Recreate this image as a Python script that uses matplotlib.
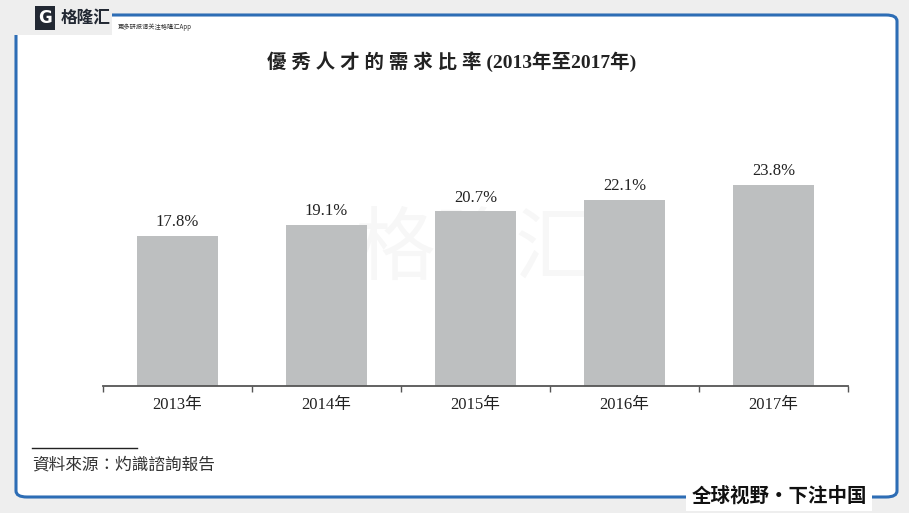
import matplotlib.pyplot as plt
from matplotlib.patches import FancyBboxPatch, Rectangle

years = ['2013年', '2014年', '2015年', '2016年', '2017年']
rates = [17.8, 19.1, 20.7, 22.1, 23.8]
labels = ['17.8%', '19.1%', '20.7%', '22.1%', '23.8%']

serif = ['Liberation Serif', 'Noto Sans CJK TC']
cjk = ['Noto Sans CJK SC', 'DejaVu Sans']

W, H = 909, 513
fig = plt.figure(figsize=(W / 100, H / 100), dpi=100)
fig.patch.set_facecolor('#eeeeee')

# frame
frame = FancyBboxPatch((16 / W, 16 / H), 881 / W, 482 / H,
                       boxstyle='round,pad=0,rounding_size=0.012',
                       transform=fig.transFigure, facecolor='white',
                       edgecolor='#2d6db5', linewidth=2.2, zorder=-10)
fig.add_artist(frame)
# gaps in the frame for logo and slogan
fig.add_artist(Rectangle((0, 478 / H), 112 / W, 35 / H, transform=fig.transFigure,
                         facecolor='#eeeeee', edgecolor='none', zorder=-9))
fig.add_artist(Rectangle((686 / W, 2 / H), 186 / W, 28 / H, transform=fig.transFigure,
                         facecolor='white', edgecolor='none', zorder=-9))
fig.text(45 / W, 495 / H, 'G', fontsize=12, fontweight='bold', color='white',
         ha='center', va='center',
         bbox=dict(boxstyle='square,pad=0.2', facecolor='#222833', edgecolor='none'))
fig.text(61 / W, 495 / H, '格隆汇', fontsize=12, fontweight='bold', color='#222833',
         family=cjk, va='center')
fig.text(118 / W, 486 / H, '更多研报请关注格隆汇App', fontsize=4.5, color='#333333',
         family=cjk, va='center')
fig.text(779 / W, 17 / H, '全球视野・下注中国', fontsize=14, fontweight='bold',
         color='#111111', family=cjk, ha='center', va='center')

# watermark
fig.text(475 / W, 262 / H, '格隆汇', fontsize=58, color='#000000', alpha=0.03,
         family=cjk, ha='center', va='center', zorder=-5)

ax = fig.add_axes([103 / W, (H - 386) / H, 745 / W, 286 / H])
ax.set_facecolor('none')
x = list(range(len(years)))
ax.bar(x, rates, width=0.54, color='#bdbfc0', zorder=2)
for xi, r, lab in zip(x, rates, labels):
    ax.text(xi, r + 0.7, lab, ha='center', va='bottom', fontsize=12,
            family=serif, color='#222222')

ax.set_xlim(-0.5, 4.5)
ax.set_ylim(0, 286 / 8.43)
ax.set_xticks(x)
ax.set_xticklabels(years, fontsize=12, family=serif, color='#222222')
ax.set_xticks([-0.5, 0.5, 1.5, 2.5, 3.5, 4.5], minor=True)
ax.tick_params(axis='x', which='major', length=0, pad=8)
ax.tick_params(axis='x', which='minor', length=4, width=1, color='#555555', direction='out')
ax.set_yticks([])
for s in ['top', 'right', 'left']:
    ax.spines[s].set_visible(False)
ax.spines['bottom'].set_color('#555555')
ax.spines['bottom'].set_linewidth(1.3)

fig.text(452 / W, (H - 62) / H, '優 秀 人 才 的 需 求 比 率 (2013年至2017年)', fontsize=14,
         fontweight='bold', family=serif, ha='center', va='center', color='#222222')

# source
fig.add_artist(plt.Line2D([32 / W, 137 / W], [(H - 448) / H, (H - 448) / H],
                          transform=fig.transFigure, color='#222222', linewidth=1))
fig.text(32 / W, (H - 465) / H, '資料來源：灼識諮詢報告', fontsize=12, style='italic',
         family=['Noto Sans CJK TC', 'DejaVu Sans'], color='#333333', va='center')

fig.savefig('out.png', dpi=100, facecolor=fig.get_facecolor())
